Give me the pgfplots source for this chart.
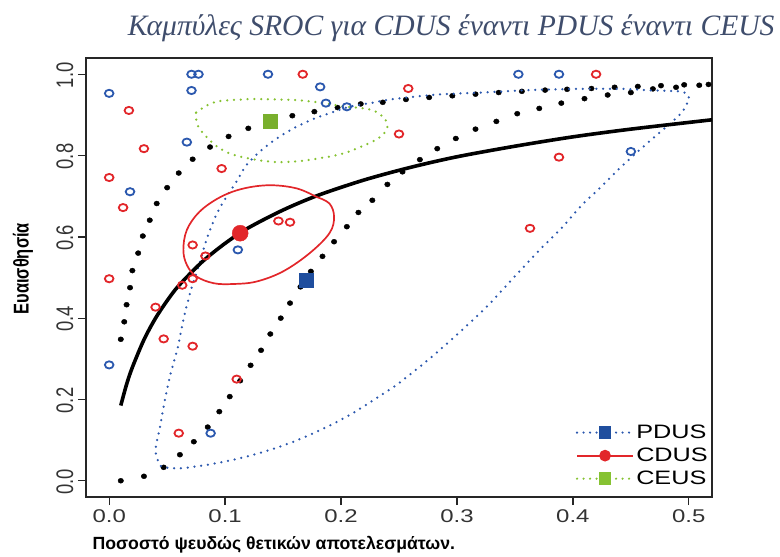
\documentclass[border=0pt]{standalone}
\usepackage{fontspec}
\setmainfont{Liberation Sans}
\newfontfamily\widefont{Liberation Sans}[FakeStretch=1.3]
\newfontfamily\titlefont{Liberation Serif}
\usepackage{pgfplots}
\pgfplotsset{compat=1.18}
\definecolor{pblue}{HTML}{2B58AE}
\definecolor{sqblue}{HTML}{1F4E9E}
\definecolor{cred}{HTML}{E2262A}
\definecolor{cgreen}{HTML}{86C232}
\definecolor{titlec}{HTML}{3F4D6C}
\begin{document}
\begin{tikzpicture}
\begin{axis}[
  at={(0,0)}, anchor=south west,
  scale only axis, width=626bp, height=439bp,
  xmin=-0.02, xmax=0.52, ymin=-0.04, ymax=1.04,
  axis line style={line width=1.6bp, black!85},
  xtick={0,0.1,0.2,0.3,0.4,0.5}, ytick={0,0.2,0.4,0.6,0.8,1},
  xticklabels={0.0,0.1,0.2,0.3,0.4,0.5},
  yticklabels={0.0,0.2,0.4,0.6,0.8,1.0},
  tick pos=left, tick align=outside, major tick length=8bp,
  tick style={line width=1.3bp, black!85},
  /pgf/number format/assume math mode=true,
  xticklabel style={font=\widefont\fontsize{18.5}{22}\selectfont, text=black!80, yshift=-1bp},
  yticklabel style={font=\fontsize{18.5}{22}\selectfont, text=black!80, xscale=1.3, rotate=90, anchor=south, xshift=-1bp},
  clip mode=individual,
  legend image code/.code={\draw[mark repeat=2,mark phase=2,#1] plot coordinates {(0bp,0bp) (28bp,0bp) (56bp,0bp)};},
  legend style={at={(rel axis cs:1.0,0.015)}, anchor=south east, draw=none, fill=none,
    font=\widefont\fontsize{19.5}{23}\selectfont, row sep=4bp, inner sep=2bp},
  legend cell align=left,
]
% CI band (upper)
\addplot[only marks, mark=*, mark size=2.5bp, mark options={xscale=1.1}, black, forget plot] coordinates {
(0.010,0.348)(0.013,0.391)(0.015,0.433)(0.018,0.475)(0.020,0.517)(0.025,0.560)(0.029,0.602)(0.035,0.641)(0.041,0.682)(0.050,0.721)(0.060,0.757)(0.072,0.791)(0.087,0.821)(0.103,0.847)(0.120,0.867)(0.139,0.884)(0.158,0.898)(0.177,0.908)(0.197,0.918)(0.217,0.927)(0.236,0.931)(0.256,0.938)(0.276,0.943)(0.296,0.947)(0.316,0.951)(0.336,0.955)(0.356,0.958)(0.376,0.961)(0.395,0.963)(0.416,0.965)(0.436,0.968)(0.456,0.970)(0.476,0.972)(0.496,0.974)(0.517,0.975)};
% CI band (lower)
\addplot[only marks, mark=*, mark size=2.5bp, mark options={xscale=1.1}, black, forget plot] coordinates {
(0.010,0.000)(0.030,0.011)(0.047,0.033)(0.061,0.064)(0.073,0.096)(0.085,0.132)(0.095,0.170)(0.104,0.207)(0.113,0.246)(0.122,0.284)(0.131,0.321)(0.139,0.361)(0.148,0.400)(0.156,0.437)(0.165,0.477)(0.174,0.515)(0.184,0.552)(0.194,0.588)(0.205,0.625)(0.215,0.660)(0.227,0.690)(0.240,0.729)(0.253,0.760)(0.268,0.790)(0.283,0.817)(0.299,0.842)(0.316,0.865)(0.334,0.884)(0.352,0.903)(0.371,0.916)(0.390,0.929)(0.410,0.940)(0.430,0.949)(0.450,0.955)(0.469,0.964)(0.489,0.968)(0.509,0.973)};
% PDUS confidence region
\addplot[pblue, line width=2.5bp, line cap=round, dash pattern=on 0pt off 6.8bp, smooth, tension=0.4, forget plot] coordinates {
(0.500,0.943)(0.498,0.953)(0.491,0.958)(0.463,0.961)(0.443,0.964)(0.404,0.964)(0.362,0.961)(0.322,0.955)(0.283,0.950)(0.245,0.939)(0.225,0.929)(0.207,0.920)(0.194,0.908)(0.176,0.890)(0.159,0.867)(0.144,0.841)(0.130,0.810)(0.118,0.775)(0.110,0.737)(0.101,0.698)(0.093,0.658)(0.087,0.617)(0.082,0.576)(0.078,0.535)(0.071,0.474)(0.065,0.409)(0.059,0.326)(0.053,0.264)(0.048,0.199)(0.044,0.135)(0.041,0.095)(0.040,0.073)(0.042,0.050)(0.045,0.035)(0.054,0.031)(0.064,0.031)(0.084,0.039)(0.103,0.049)(0.122,0.062)(0.141,0.078)(0.159,0.096)(0.177,0.118)(0.194,0.141)(0.210,0.166)(0.225,0.193)(0.248,0.236)(0.275,0.297)(0.301,0.362)(0.326,0.429)(0.349,0.500)(0.372,0.570)(0.390,0.621)(0.407,0.676)(0.425,0.725)(0.443,0.776)(0.462,0.825)(0.482,0.874)(0.494,0.906)(0.498,0.925)(0.500,0.943)};
% CEUS confidence region
\addplot[cgreen, line width=2.5bp, line cap=round, dash pattern=on 0pt off 6.8bp, smooth, tension=0.5, forget plot] coordinates {
(0.075,0.906)(0.084,0.923)(0.093,0.933)(0.103,0.936)(0.123,0.939)(0.143,0.938)(0.163,0.936)(0.183,0.930)(0.202,0.921)(0.220,0.916)(0.230,0.908)(0.238,0.890)(0.240,0.870)(0.236,0.851)(0.229,0.837)(0.220,0.825)(0.202,0.805)(0.183,0.794)(0.163,0.786)(0.143,0.784)(0.124,0.791)(0.104,0.805)(0.090,0.829)(0.078,0.866)(0.075,0.890)(0.075,0.906)};
% SROC curve
\addplot[black, line width=3.6bp, smooth, forget plot] coordinates {
(0.010,0.185)(0.015,0.237)(0.020,0.279)(0.030,0.347)(0.040,0.400)(0.050,0.443)(0.060,0.480)(0.080,0.538)(0.100,0.584)(0.120,0.622)(0.150,0.666)(0.180,0.702)(0.220,0.740)(0.260,0.771)(0.300,0.797)(0.350,0.823)(0.400,0.846)(0.450,0.865)(0.520,0.888)};
% CDUS confidence region
\addplot[cred, line width=1.7bp, smooth, tension=0.6, forget plot] coordinates {
(0.179,0.698)(0.162,0.719)(0.139,0.727)(0.116,0.719)(0.096,0.698)(0.078,0.662)(0.067,0.617)(0.064,0.568)(0.067,0.531)(0.075,0.503)(0.090,0.486)(0.107,0.484)(0.127,0.490)(0.150,0.515)(0.173,0.560)(0.190,0.609)(0.194,0.649)(0.190,0.682)(0.179,0.698)};
% PDUS studies
\addplot[only marks, mark=o, mark size=3.6bp, mark options={line width=1.8bp, xscale=1.2}, pblue, forget plot] coordinates {
(0.000,0.953)(0.071,1.000)(0.077,1.000)(0.137,1.000)(0.182,0.969)(0.071,0.960)(0.187,0.929)(0.205,0.920)(0.067,0.833)(0.018,0.711)(0.111,0.568)(0.353,1.000)(0.388,1.000)(0.450,0.810)(0.000,0.285)(0.0875,0.117)};
% CDUS studies
\addplot[only marks, mark=o, mark size=3.6bp, mark options={line width=1.8bp, xscale=1.2}, cred, forget plot] coordinates {
(0.167,1.000)(0.017,0.911)(0.030,0.817)(0.097,0.768)(0.000,0.746)(0.012,0.672)(0.146,0.639)(0.156,0.636)(0.072,0.580)(0.083,0.553)(0.000,0.497)(0.072,0.497)(0.063,0.481)(0.040,0.427)(0.047,0.349)(0.072,0.331)(0.110,0.250)(0.060,0.117)(0.420,1.000)(0.258,0.965)(0.250,0.853)(0.388,0.796)(0.363,0.621)};
% summary points
\addplot[only marks, mark=square*, mark size=7bp, sqblue, forget plot] coordinates {(0.170,0.494)};
\addplot[only marks, mark=*, mark size=8bp, cred, forget plot] coordinates {(0.113,0.609)};
\addplot[only marks, mark=square*, mark size=7bp, cgreen!90!black, forget plot] coordinates {(0.139,0.884)};
% legend
\addlegendimage{pblue, line width=2.4bp, line cap=round, dash pattern=on 0pt off 6.5bp, mark=square*, mark size=5bp, mark options={solid, fill=sqblue, draw=sqblue}}
\addlegendentry{PDUS}
\addlegendimage{cred, line width=1.7bp, mark=*, mark size=5bp, mark options={solid}}
\addlegendentry{CDUS}
\addlegendimage{cgreen, line width=2.4bp, line cap=round, dash pattern=on 0pt off 6.5bp, mark=square*, mark size=5bp, mark options={solid}}
\addlegendentry{CEUS}
% labels and title
\node[anchor=center, font=\bfseries\fontsize{17.7}{20}\selectfont] at (rel axis cs:0.30,0) [yshift=-48bp] {Ποσοστό ψευδώς θετικών αποτελεσμάτων.};
\node[anchor=center, xshift=-63bp, xscale=1.3, rotate=90, font=\bfseries\fontsize{16.5}{19}\selectfont] at (rel axis cs:0,0.52) {Ευαισθησία};
\node[anchor=east, text=titlec, font=\titlefont\itshape\fontsize{29.7}{34}\selectfont] at (rel axis cs:1,1) [xshift=66bp, yshift=30bp] {Καμπύλες SROC για CDUS έναντι PDUS έναντι CEUS};
\end{axis}
\useasboundingbox (-86bp,-56bp) rectangle (694bp,497bp);
\end{tikzpicture}
\end{document}
